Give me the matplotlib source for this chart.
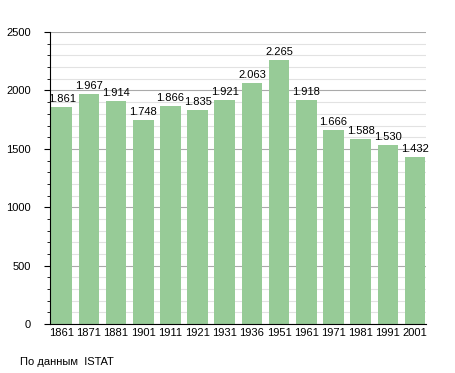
import matplotlib.pyplot as plt
import matplotlib as mpl
from matplotlib.ticker import MultipleLocator

mpl.rcParams['font.family'] = ['Liberation Sans', 'DejaVu Sans']
mpl.rcParams['font.size'] = 8

years = ['1861', '1871', '1881', '1901', '1911', '1921', '1931',
         '1936', '1951', '1961', '1971', '1981', '1991', '2001']
population = [1861, 1967, 1914, 1748, 1866, 1835, 1921,
              2063, 2265, 1918, 1666, 1588, 1530, 1432]

fig = plt.figure(figsize=(4.55, 3.73), dpi=100)
ax = fig.add_axes([0.110, 0.131, 0.826, 0.783])

x = range(len(years))
ax.bar(x, population, width=0.76, color='#97cb97', zorder=2)

for i, v in zip(x, population):
    ax.text(i, v + 25, '{:,}'.format(v).replace(',', '.'),
            ha='center', va='bottom', fontsize=8, zorder=3)

ax.set_xlim(-0.43, 13.4)
ax.set_ylim(0, 2500)
ax.yaxis.set_major_locator(MultipleLocator(500))
ax.yaxis.set_minor_locator(MultipleLocator(100))
ax.grid(axis='y', which='major', color='#aaaaaa', lw=0.8, zorder=0)
ax.grid(axis='y', which='minor', color='#e2e2e2', lw=0.8, zorder=0)

ax.set_xticks(list(x))
ax.set_xticklabels(years)
ax.tick_params(axis='x', length=0, pad=3)
ax.tick_params(axis='y', which='major', length=4, pad=10)
ax.tick_params(axis='y', which='minor', length=2.5)

for s in ['top', 'right']:
    ax.spines[s].set_visible(False)

fig.text(0.044, 0.03, 'По данным  ISTAT', fontsize=8, ha='left', va='center')

plt.savefig('out.png', dpi=100)
